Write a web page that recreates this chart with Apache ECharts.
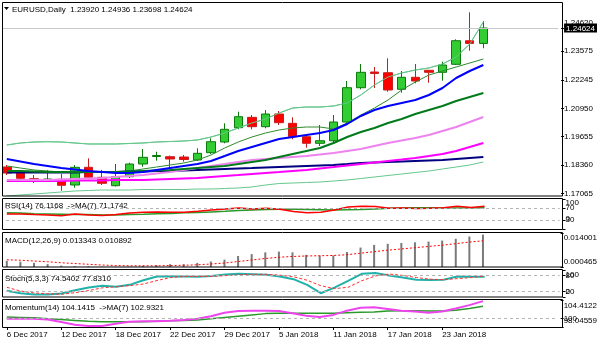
<!DOCTYPE html>
<html>
<head>
<meta charset="utf-8">
<script src="https://cdn.jsdelivr.net/npm/echarts@6/dist/echarts.min.js"></script>
<style>
  html, body { margin: 0; padding: 0; background: #fff; }
  #chart { width: 600px; height: 343px; }
</style>
</head>
<body>
<div id="chart"></div>
<script>
// EURUSD daily candles with moving averages, bands and four indicator panes
const FONT = 'Liberation Sans';

const dates = [
  '6 Dec 2017','7 Dec 2017','8 Dec 2017','11 Dec 2017','12 Dec 2017','13 Dec 2017','14 Dec 2017','15 Dec 2017',
  '18 Dec 2017','19 Dec 2017','20 Dec 2017','21 Dec 2017','22 Dec 2017','26 Dec 2017','27 Dec 2017','28 Dec 2017',
  '29 Dec 2017','2 Jan 2018','3 Jan 2018','4 Jan 2018','5 Jan 2018','8 Jan 2018','9 Jan 2018','10 Jan 2018',
  '11 Jan 2018','12 Jan 2018','15 Jan 2018','16 Jan 2018','17 Jan 2018','18 Jan 2018','19 Jan 2018','22 Jan 2018',
  '23 Jan 2018','24 Jan 2018','25 Jan 2018','26 Jan 2018'
];
const tickDates = ['6 Dec 2017','12 Dec 2017','18 Dec 2017','22 Dec 2017','29 Dec 2017','5 Jan 2018','11 Jan 2018','17 Jan 2018','23 Jan 2018'];
const emptySlots = 5; // free space right of the last bar

const opens  = [1.18268,1.18007,1.17733,1.17641,1.17705,1.17445,1.18254,1.17797,1.17413,1.17824,1.18405,1.18748,1.18739,1.18725,1.18588,1.18922,1.19411,1.20065,1.20540,1.20111,1.20691,1.20266,1.19653,1.19352,1.19470,1.20326,1.21894,1.22612,1.22580,1.21821,1.22370,1.22690,1.22598,1.22964,1.24043,1.23920];
const highs  = [1.18359,1.18085,1.17902,1.18131,1.17948,1.18359,1.18665,1.18131,1.18405,1.18464,1.19091,1.18967,1.18794,1.18816,1.19123,1.19580,1.20266,1.20797,1.20646,1.20874,1.20829,1.20540,1.19731,1.20188,1.20646,1.22200,1.22978,1.22841,1.23239,1.22658,1.22978,1.22704,1.23083,1.24107,1.25342,1.24936];
const lows   = [1.17902,1.17673,1.17536,1.17605,1.17184,1.17321,1.17705,1.17445,1.17376,1.17765,1.18281,1.18556,1.18208,1.18510,1.18542,1.18862,1.19352,1.19992,1.19992,1.20037,1.20188,1.19534,1.19150,1.19228,1.19319,1.20280,1.21821,1.21880,1.21711,1.21665,1.22095,1.22123,1.22214,1.22932,1.23586,1.23698];
const closes = [1.17993,1.17751,1.17696,1.17719,1.17431,1.18254,1.17797,1.17522,1.17824,1.18405,1.18711,1.18794,1.18634,1.18611,1.18894,1.19425,1.19992,1.20568,1.20111,1.20691,1.20294,1.19653,1.19352,1.19470,1.20326,1.21894,1.22598,1.22543,1.21789,1.22370,1.22200,1.22598,1.22932,1.24043,1.23920,1.24624];

const bandUpper   = [1.19274,1.19366,1.19411,1.19425,1.19411,1.19366,1.1932,1.1932,1.1932,1.19343,1.19366,1.19411,1.19434,1.19457,1.19503,1.1964,1.19823,1.20052,1.2028,1.20463,1.20738,1.20966,1.21012,1.21012,1.21058,1.21195,1.21561,1.22018,1.22384,1.22567,1.22704,1.22795,1.22978,1.23298,1.2389,1.24899];
const maFastGreen = [1.18314,1.18222,1.18131,1.18085,1.18039,1.18039,1.18039,1.18039,1.18039,1.18085,1.18177,1.18268,1.1836,1.18451,1.18588,1.18817,1.19137,1.19411,1.1964,1.19823,1.1996,1.20052,1.20097,1.20097,1.20006,1.2028,1.20646,1.20966,1.21332,1.21789,1.22155,1.22475,1.22658,1.22841,1.23024,1.23207];
const maBlue      = [1.18634,1.1852,1.18405,1.18314,1.18222,1.18154,1.18085,1.18039,1.17994,1.17994,1.18039,1.18131,1.18222,1.18314,1.18405,1.18543,1.18771,1.19,1.19183,1.19366,1.19549,1.1964,1.19731,1.19823,1.1996,1.20235,1.206,1.20875,1.21058,1.21195,1.21332,1.21561,1.21881,1.22338,1.22658,1.22933];
const maDarkGreen = [1.18085,1.18085,1.18062,1.18039,1.18039,1.18039,1.18039,1.18039,1.18039,1.18062,1.18085,1.18108,1.18131,1.18177,1.18222,1.18268,1.18314,1.18405,1.18497,1.18588,1.18725,1.18863,1.19,1.19137,1.19366,1.1964,1.19869,1.20052,1.2028,1.20463,1.20692,1.20875,1.21058,1.21287,1.2147,1.21652];
const maViolet    = [1.17674,1.17674,1.17674,1.17674,1.17697,1.17719,1.17742,1.17765,1.17811,1.17857,1.17902,1.17971,1.18039,1.18131,1.18222,1.18314,1.18405,1.18497,1.18588,1.18634,1.1868,1.18725,1.18771,1.1884,1.18908,1.19,1.19091,1.19228,1.19366,1.1948,1.19594,1.19731,1.19914,1.20097,1.20326,1.20555];
const maMagenta   = [1.17628,1.17628,1.17628,1.17628,1.17628,1.17651,1.17651,1.17651,1.17674,1.17674,1.17674,1.17697,1.17719,1.17742,1.17765,1.17811,1.17857,1.17902,1.17948,1.17994,1.18039,1.18085,1.18131,1.182,1.18268,1.18337,1.18405,1.18474,1.18543,1.18611,1.1868,1.18771,1.18863,1.19,1.19183,1.19366];
const maNavy      = [1.18017,1.18017,1.18017,1.18017,1.18017,1.18017,1.18039,1.18039,1.18039,1.18062,1.18062,1.18085,1.18085,1.18108,1.18131,1.18154,1.18177,1.182,1.18222,1.18245,1.18268,1.18291,1.18314,1.18337,1.1836,1.18405,1.18451,1.18474,1.18497,1.1852,1.18543,1.18566,1.18588,1.18634,1.1868,1.18725];
const bandLower   = [1.16942,1.16988,1.17034,1.17079,1.17125,1.17171,1.17194,1.17216,1.17216,1.17216,1.17239,1.17239,1.17239,1.17239,1.17262,1.17262,1.17285,1.17308,1.17354,1.17445,1.17513,1.17536,1.17559,1.17582,1.17628,1.17674,1.17742,1.17811,1.1788,1.17948,1.18017,1.18085,1.18177,1.18268,1.1836,1.18497];

const rsi   = [50,50,48,47,44,50,47,45,48,53,56,57,56,56,59,63,67,70,67,69,66,58,54,56,63,73,76,75,69,70,68,69,71,76,72,76.1168];
const rsiMa = [54,53,51,50,49,48,48,47,47,48,49,51,52,54,55,57,59,62,63,65,66,66,65,64,63,64,65,67,69,70,71,71,70,70,70,71.1742];

const macdMain   = [0.0029,0.0026,0.0021,0.0016,0.0010,0.00075,0.00075,0.0006,0.00055,0.0006,0.0009,0.0012,0.0016,0.0016,0.0021,0.00265,0.0034,0.00485,0.0056,0.0063,0.0066,0.0063,0.0053,0.005,0.0051,0.00645,0.0082,0.00925,0.0097,0.0100,0.0103,0.0106,0.0110,0.0117,0.0126,0.013343];
const macdSignal = [0.00335,0.00315,0.00285,0.00255,0.00215,0.00185,0.00155,0.00125,0.00105,0.00095,0.00095,0.00095,0.00105,0.00115,0.00135,0.00165,0.00205,0.00265,0.00325,0.00385,0.00435,0.00465,0.00485,0.00495,0.00505,0.00535,0.00595,0.00655,0.00715,0.00765,0.00815,0.00865,0.00915,0.00975,0.0104,0.010892];

const stochK = [23,14,9,9,13,25,35,42,38,45,62,76,77,76,75,78,83,86,84,82,76,66,45,14,35,60,86,89,80,72,64,63,64,76,75,74.5402];
const stochD = [36,22,15,12,10,16,24,34,38,42,48,61,72,76,76,76,79,82,84,84,81,75,62,42,31,36,60,78,85,80,72,66,64,68,72,77.831];

const momentum   = [100.0,100.0,100.0,99.8,99.2,98.6,98.3,98.3,98.8,99.3,99.4,99.4,99.5,99.7,100.0,100.6,101.4,101.8,101.9,101.9,101.8,101.3,100.7,100.4,100.9,101.9,102.6,102.7,102.3,101.9,101.7,101.4,101.7,102.4,103.2,104.1415];
const momentumMa = [100.4,100.3,100.2,100.0,99.8,99.6,99.4,99.3,99.3,99.3,99.3,99.4,99.5,99.6,99.7,100.0,100.3,100.6,100.9,101.2,101.3,101.3,101.3,101.3,101.3,101.4,101.5,101.6,101.8,101.9,101.9,101.8,101.8,102.0,102.4,102.9321];

const priceTicks = [1.17065, 1.18360, 1.19655, 1.20950, 1.22245, 1.23575, 1.24620];
const lastPrice = 1.24624;
const rsiLevels = [30, 70], rsiRange = [0, 100];
const macdRange = [0.000465, 0.014001];
const stochLevels = [20, 80], stochRange = [0, 100];
const momentumLevels = [100], momentumRange = [98.04559, 104.4122];

// ---- layout ----
const categories = dates.concat(new Array(emptySlots).fill(''));
const SLOT = 13.757;
const PLOT_LEFT = -4.38;
const PLOT_WIDTH = SLOT * categories.length;
const FRAME_RIGHT = 562.5;

// range labels sit inside their pane: shift = number of half line-heights (+ down, - up)
const shiftLabel = (text, n) => n > 0 ? '\n'.repeat(n) + text : (n < 0 ? text + '\n'.repeat(-n) : text);
const edge = (lo, hi, upLines, downLines, digits) => v =>
  shiftLabel(digits ? v.toFixed(digits) : String(v), v === hi ? downLines : (v === lo ? -upLines : 0));

const panes = [
  { top: 3, height: 193, min: 1.16942, max: 1.25768,
    ticks: priceTicks, labelsA: priceTicks, lhA: 11, fmtA: v => shiftLabel(v.toFixed(5), v === 1.2462 ? -1 : 0),
    labelsB: [lastPrice], lhB: 10, fmtB: v => '{box|' + v.toFixed(5) + '}' },
  { top: 199, height: 30, min: rsiRange[0], max: rsiRange[1],
    ticks: rsiLevels.concat(rsiRange), labelsA: rsiLevels, lhA: 10, fmtA: v => String(v),
    labelsB: rsiRange, lhB: 7, fmtB: edge(0, 100, 3, 1) },
  { top: 233, height: 34, min: macdRange[0], max: macdRange[1],
    ticks: macdRange, labelsA: macdRange, lhA: 10, fmtA: edge(macdRange[0], macdRange[1], 1, 1, 6),
    labelsB: [], lhB: 10, fmtB: v => '' },
  { top: 270, height: 27, min: stochRange[0], max: stochRange[1],
    ticks: stochLevels.concat(stochRange), labelsA: stochLevels, lhA: 10, fmtA: v => String(v),
    labelsB: stochRange, lhB: 10, fmtB: edge(0, 100, 1, 1) },
  { top: 300, height: 27, min: momentumRange[0], max: momentumRange[1],
    ticks: momentumLevels.concat(momentumRange), labelsA: momentumLevels, lhA: 10, fmtA: v => String(v),
    labelsB: momentumRange, lhB: 12, fmtB: edge(momentumRange[0], momentumRange[1], 1, 1) }
];
const showDate = (idx) => tickDates.indexOf(categories[idx]) >= 0;

const grids = panes.map(p => ({ left: PLOT_LEFT, width: PLOT_WIDTH, top: p.top, height: p.height }));
const xAxes = panes.map((p, k) => {
  const last = k === panes.length - 1;
  return {
    type: 'category', gridIndex: k, data: categories, boundaryGap: true,
    axisLine: { show: false },
    axisTick: { show: last, alignWithLabel: true, interval: showDate, length: 3, lineStyle: { color: '#000' } },
    axisLabel: { show: last, interval: showDate, align: 'left', margin: 4, fontSize: 8, fontFamily: FONT, color: '#000' },
    splitLine: { show: false }
  };
});
const yAxis = (p, k, labels, fmt, lh, withTicks) => ({
  type: 'value', gridIndex: k, position: 'right', offset: FRAME_RIGHT - (PLOT_LEFT + PLOT_WIDTH),
  min: p.min, max: p.max,
  axisLine: { show: false },
  splitLine: { show: false },
  axisTick: { show: withTicks, customValues: p.ticks, length: 3, lineStyle: { color: '#000' } },
  axisLabel: {
    show: labels.length > 0, customValues: labels, formatter: fmt, margin: 3, lineHeight: lh,
    showMinLabel: true, showMaxLabel: true,
    fontSize: 8, fontFamily: FONT, color: '#000',
    rich: { box: { fontSize: 8, fontFamily: FONT, color: '#fff', backgroundColor: '#000', lineHeight: 10, padding: [1, 2, 0, 2] } }
  }
});
// axes 0-4 carry ticks and level labels, axes 5-9 the range labels of the same panes
const yAxes = panes.map((p, k) => yAxis(p, k, p.labelsA, p.fmtA, p.lhA, true))
  .concat(panes.map((p, k) => yAxis(p, k, p.labelsB, p.fmtB, p.lhB, false)));

const lineSeries = (data, k, color, width, type) => ({
  type: 'line', xAxisIndex: k, yAxisIndex: k, data: data,
  showSymbol: false, symbol: 'none', silent: true, z: 3,
  lineStyle: { color: color, width: width, type: type || 'solid' }
});
const levels = (values) => ({
  silent: true, symbol: 'none', label: { show: false }, precision: 6,
  lineStyle: { color: '#b4b4b4', width: 1, type: [3, 3] },
  data: values.map(v => ({ yAxis: v }))
});

const series = [
  Object.assign(lineSeries(bandUpper, 0, '#66c78c', 1), {
    z: 1,
    markLine: { silent: true, symbol: 'none', label: { show: false }, precision: 5,
      lineStyle: { color: '#c8c8c8', width: 1, type: 'solid' }, data: [{ yAxis: lastPrice }] }
  }),
  {
    type: 'candlestick', xAxisIndex: 0, yAxisIndex: 0, barWidth: 9, z: 2,
    data: opens.map((o, i) => [o, closes[i], lows[i], highs[i]]),
    itemStyle: { color: '#33cc33', color0: '#ff0000', borderColor: '#0a7a0a', borderColor0: '#c81e1e', borderWidth: 1 }
  },
  lineSeries(bandLower, 0, '#66c78c', 1),
  lineSeries(maFastGreen, 0, '#2e8b2e', 1),
  lineSeries(maNavy, 0, '#000080', 2),
  lineSeries(maMagenta, 0, '#ff00ff', 2),
  lineSeries(maViolet, 0, '#ee82ee', 2),
  lineSeries(maDarkGreen, 0, '#007a1a', 2),
  lineSeries(maBlue, 0, '#0000ff', 2),
  lineSeries(bandUpper, 0, '#66c78c', 1),

  Object.assign(lineSeries(rsiMa, 1, '#2a9a2a', 1.5), { markLine: levels(rsiLevels) }),
  lineSeries(rsi, 1, '#ff0000', 1.5),

  {
    type: 'bar', xAxisIndex: 2, yAxisIndex: 2, data: macdMain, barWidth: 2, silent: true, clip: true,
    itemStyle: { color: '#7a7a7a' }
  },
  lineSeries(macdSignal, 2, '#ff0000', 1, [2, 2]),

  Object.assign(lineSeries(stochK, 3, '#20b2aa', 2), { markLine: levels(stochLevels) }),
  lineSeries(stochD, 3, '#ff3030', 1, [3, 2]),

  Object.assign(lineSeries(momentumMa, 4, '#2a9a2a', 1.5), { markLine: levels(momentumLevels) }),
  lineSeries(momentum, 4, '#ee44ee', 2)
];

// pane frames, captions and the left edge mask
const frames = [
  [2.5, 196], [198.5, 229.5], [232.5, 267], [269.5, 297], [299.5, 327.5]
];
const captions = [
  ['EURUSD,Daily  1.23920 1.24936 1.23698 1.24624', 12, 10],
  ['RSI(14) 76.1168  ->MA(7) 71.1742', 5, 206],
  ['MACD(12,26,9) 0.013343 0.010892', 5, 241],
  ['Stoch(5,3,3) 74.5402 77.8310', 5, 279],
  ['Momentum(14) 104.1415  ->MA(7) 102.9321', 5, 308]
];
const graphic = [
  { type: 'rect', z: 50, shape: { x: 0, y: 0, width: 2, height: 343 }, style: { fill: '#fff' } }
].concat(frames.map(f => ({
  type: 'rect', z: 60,
  shape: { x: 2.5, y: f[0], width: FRAME_RIGHT - 2.5, height: f[1] - f[0] },
  style: { fill: 'none', stroke: '#000', lineWidth: 1 }
}))).concat(captions.map(c => ({
  type: 'text', z: 70, x: c[1], y: c[2],
  style: { text: c[0], fill: '#000', font: '8px "' + FONT + '"', textVerticalAlign: 'middle' }
}))).concat([{
  type: 'polygon', z: 70,
  shape: { points: [[4, 7], [9, 7], [6.5, 10]] }, style: { fill: '#000' }
}]);

const chart = echarts.init(document.getElementById('chart'), null, { renderer: 'canvas' });
chart.setOption({
  animation: false,
  backgroundColor: '#fff',
  grid: grids,
  xAxis: xAxes,
  yAxis: yAxes,
  series: series,
  graphic: graphic
});
</script>
</body>
</html>
